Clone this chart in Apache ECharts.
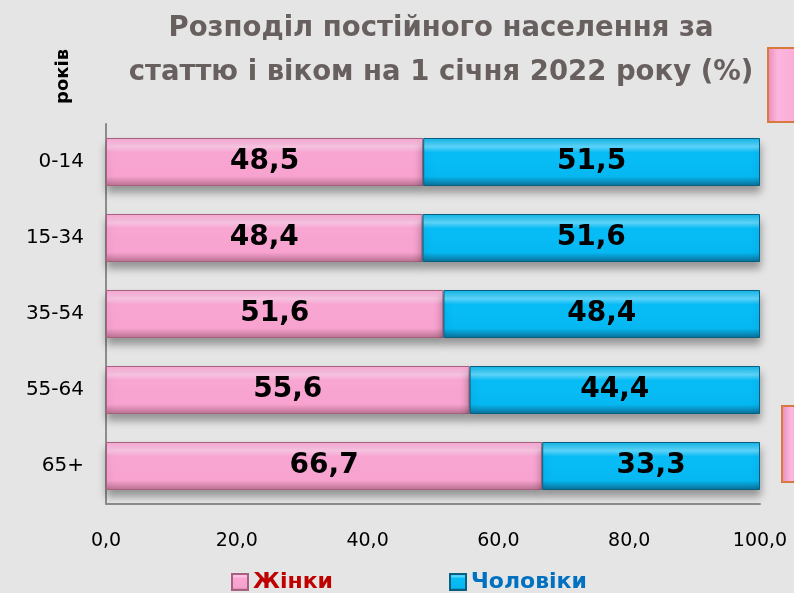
<!DOCTYPE html>
<html><head><meta charset="utf-8">
<script src="https://cdn.jsdelivr.net/npm/echarts@6/dist/echarts.min.js"></script>
<style>html,body{margin:0;padding:0;}#c{width:794px;height:593px;}</style>
</head><body><div id="c"></div>
<script>
const categories = ['0-14', '15-34', '35-54', '55-64', '65+'];
const women = [48.5, 48.4, 51.6, 55.6, 66.7];
const men = [51.5, 51.6, 48.4, 44.4, 33.3];
const seriesNames = ['Жінки', 'Чоловіки'];
const titleText = 'Розподіл постійного населення за\nстаттю і віком на 1 січня 2022 року (%)';
const axisName = 'років';

const FF = 'DejaVu Sans';
const chart = echarts.init(document.getElementById('c'));
const fmt = v => v.toFixed(1).replace('.', ',');
const pinkGrad = new echarts.graphic.LinearGradient(0,0,0,1,[
  {offset:0,color:'#f7a8d2'},{offset:0.18,color:'#fcc8e6'},{offset:0.3,color:'#f9a6d3'},
  {offset:0.8,color:'#f7a2cf'},{offset:1,color:'#b8708f'}]);
const blueGrad = new echarts.graphic.LinearGradient(0,0,0,1,[
  {offset:0,color:'#0fb4e6'},{offset:0.18,color:'#5fd9ff'},{offset:0.3,color:'#08bdf7'},
  {offset:0.8,color:'#06b8f2'},{offset:1,color:'#0a6e94'}]);
chart.setOption({
  backgroundColor: '#e5e5e5',
  title: {
    text: titleText, left: 436, top: 2, textAlign: 'center',
    textStyle: {fontFamily: FF, fontWeight: 'bold', fontSize: 27.5, color: '#685f5f', lineHeight: 44}
  },
  legend: {
    top: 566, left: 226, itemGap: 116, itemWidth: 16, itemHeight: 16,
    data: [
      {name: seriesNames[0], icon: 'rect', textStyle: {color: '#c00000'}},
      {name: seriesNames[1], icon: 'rect', textStyle: {color: '#0070c0'}}
    ],
    textStyle: {fontFamily: FF, fontWeight: 'bold', fontSize: 22}
  },
  grid: {left: 106, right: 34, top: 124, bottom: 89},
  xAxis: {
    type: 'value', min: 0, max: 100, interval: 20,
    axisLabel: {formatter: v => fmt(v), fontFamily: FF, fontSize: 19, color: '#000', margin: 28},
    axisLine: {show: true, lineStyle: {color: '#8c8c8c', width: 2}},
    axisTick: {show: false}, splitLine: {show: false}
  },
  yAxis: {
    type: 'category', data: categories, inverse: true,
    axisLabel: {fontFamily: FF, fontSize: 20, color: '#000', margin: 22},
    axisLine: {show: true, lineStyle: {color: '#8c8c8c', width: 2}},
    axisTick: {show: false}
  },
  series: [
    {name: seriesNames[0], type: 'bar', stack: 's', data: women, barWidth: 48,
     itemStyle: {color: pinkGrad, borderColor: '#a8607f', borderWidth: 1, shadowColor: 'rgba(0,0,0,0.35)', shadowBlur: 8, shadowOffsetY: 6},
     label: {show: true, formatter: p => fmt(p.value), fontFamily: FF, fontWeight: 'bold', fontSize: 28, color: '#000'}},
    {name: seriesNames[1], type: 'bar', stack: 's', data: men, barWidth: 48,
     itemStyle: {color: blueGrad, borderColor: '#0a5f80', borderWidth: 1, shadowColor: 'rgba(0,0,0,0.35)', shadowBlur: 8, shadowOffsetY: 6},
     label: {show: true, formatter: p => fmt(p.value), fontFamily: FF, fontWeight: 'bold', fontSize: 28, color: '#000'}}
  ],
  color: ['#f7a2cf', '#08bdf7'],
  graphic: [
    {type: 'text', x: 72, y: 104, rotation: Math.PI / 2,
     style: {text: axisName, fontFamily: FF, fontWeight: 'bold', fontSize: 18, fill: '#000', textAlign: 'left', textVerticalAlign: 'bottom'}},
    {type: 'rect', shape: {x: 768, y: 48, width: 40, height: 74},
     style: {fill: new echarts.graphic.LinearGradient(0,0,1,0,[{offset:0,color:'#e589bb'},{offset:0.25,color:'#fcb6dd'},{offset:1,color:'#f9a6d3'}]), stroke: '#d87a3c', lineWidth: 2}},
    {type: 'rect', shape: {x: 782, y: 406, width: 30, height: 76},
     style: {fill: new echarts.graphic.LinearGradient(0,0,1,0,[{offset:0,color:'#e589bb'},{offset:0.3,color:'#fcb6dd'},{offset:1,color:'#f9a6d3'}]), stroke: '#d87a3c', lineWidth: 2}}
  ]
});
</script></body></html>
